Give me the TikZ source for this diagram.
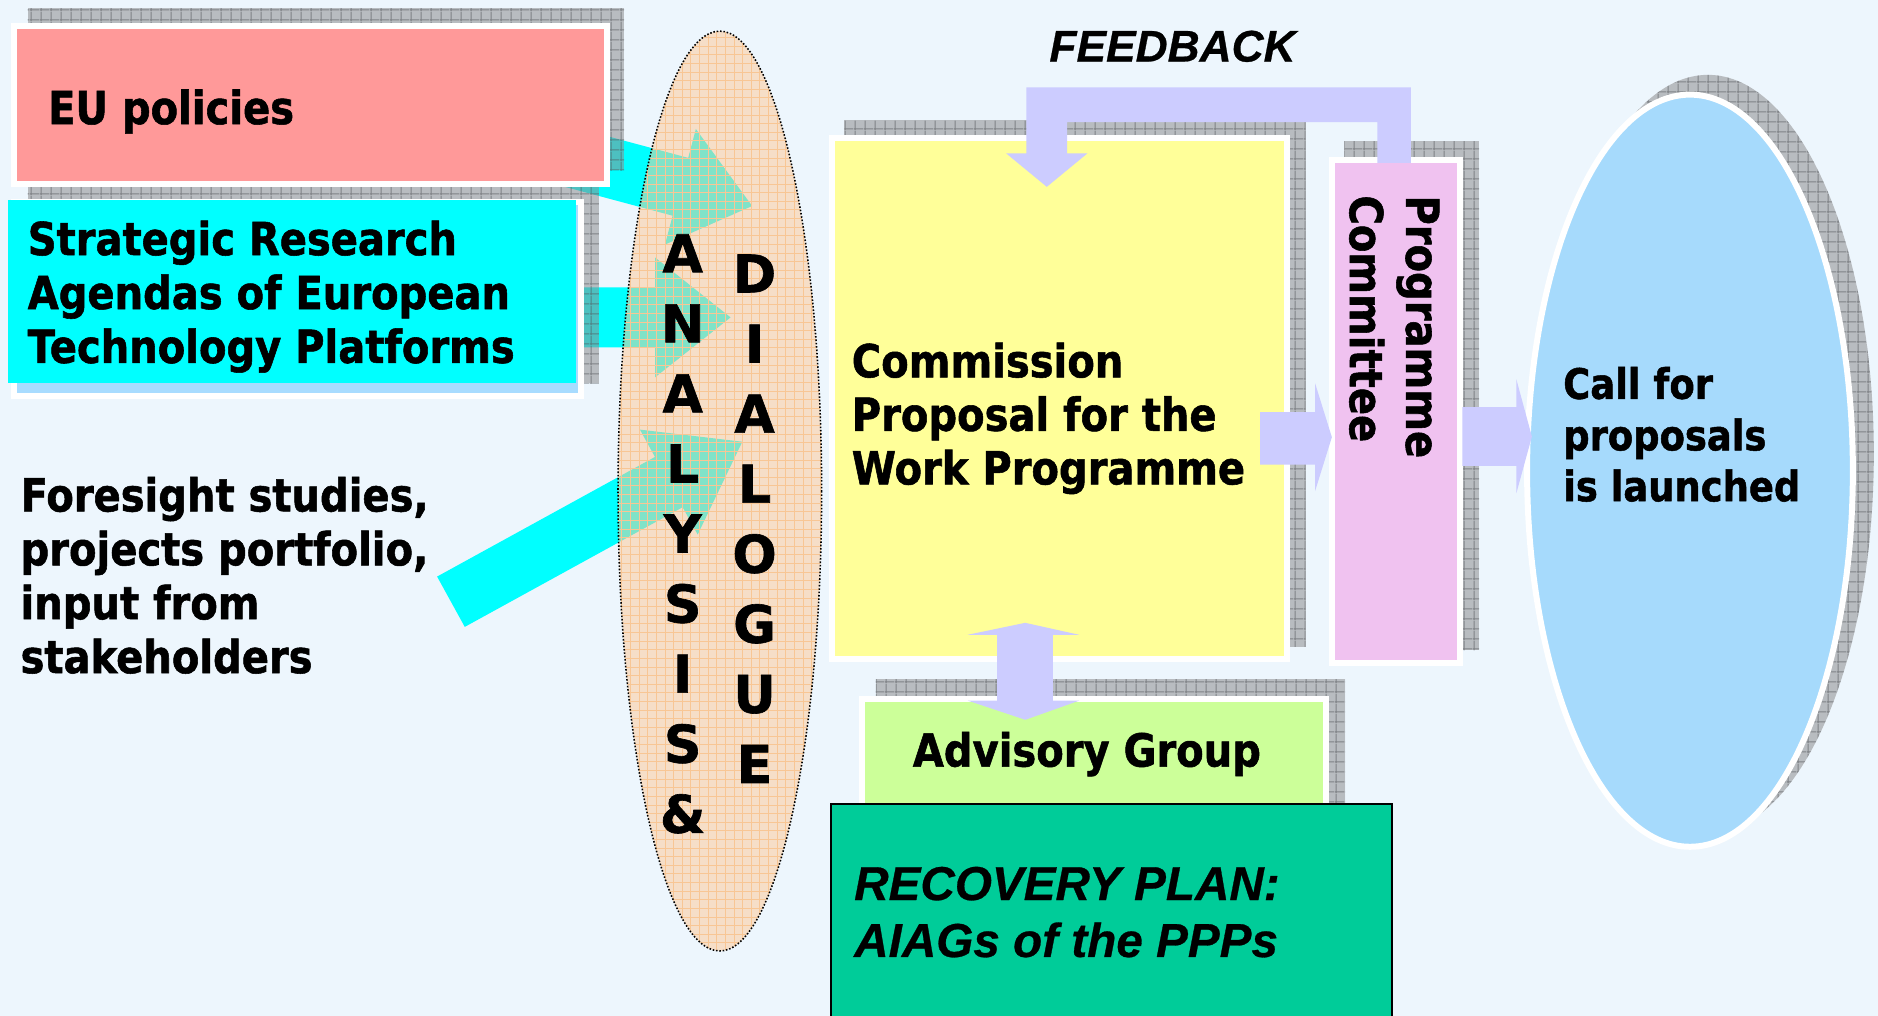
\documentclass[tikz,border=0pt]{standalone}
\usepackage{fontspec}
\usetikzlibrary{shapes.geometric,patterns}
\newfontfamily\tahfont{DejaVu Sans}[FakeStretch=0.88, BoldFeatures={FakeBold=1.2}]
\newfontfamily\verfont{DejaVu Sans}[BoldFeatures={FakeBold=1.2}]
\newfontfamily\arfont{Liberation Sans}[BoldItalicFeatures={FakeBold=0.6}]
\definecolor{bgc}{RGB}{237,246,253}
\definecolor{pinkc}{RGB}{255,153,153}
\definecolor{cyanc}{RGB}{0,255,255}
\definecolor{lbc}{RGB}{168,220,255}
\definecolor{yelc}{RGB}{255,255,153}
\definecolor{pcc}{RGB}{240,194,240}
\definecolor{limec}{RGB}{204,255,153}
\definecolor{callc}{RGB}{166,218,252}
\definecolor{greenc}{RGB}{0,204,153}
\definecolor{lavc}{RGB}{204,204,255}
\definecolor{peachc}{RGB}{255,200,146}
\definecolor{gridc}{RGB}{248,198,148}
\definecolor{shc}{RGB}{142,141,142}
\definecolor{shl}{RGB}{80,82,86}
\pgfdeclarepatternformonly{shgrid}{\pgfpointorigin}{\pgfqpoint{8.5pt}{8.5pt}}{\pgfqpoint{8.5pt}{8.5pt}}{%
  \pgfsetlinewidth{0.9pt}%
  \pgfpathmoveto{\pgfqpoint{0pt}{1pt}}\pgfpathlineto{\pgfqpoint{8.5pt}{1pt}}%
  \pgfpathmoveto{\pgfqpoint{1pt}{0pt}}\pgfpathlineto{\pgfqpoint{1pt}{8.5pt}}%
  \pgfusepath{stroke}}
\begin{document}
\begin{tikzpicture}[x=1pt,y=-1pt,
  boxst/.style={rectangle, draw=white, line width=5, inner sep=0},
  shad/.style={fill=shc, fill opacity=0.55, postaction={pattern=shgrid, pattern color=shl}},
  txt/.style={inner sep=0, anchor=base west, font=\tahfont\bfseries\fontsize{38}{44}\selectfont},
  ctxt/.style={inner sep=0, anchor=base west, font=\tahfont\bfseries\fontsize{35}{42}\selectfont},
  itxt/.style={inner sep=0, anchor=base west, font=\arfont\bfseries\itshape\fontsize{39.8}{44}\selectfont},
  letter/.style={inner sep=0, anchor=base, font=\verfont\bfseries\fontsize{43.5}{50}\selectfont},
  lav/.style={fill=lavc},
  cyarrow/.style={fill=cyanc}]
\useasboundingbox (0,0) rectangle (1568,848);
\begin{scope}
\clip (0,0) rectangle (1568,848);
\fill[bgc] (0,0) rectangle (1568,848);

% cyan input arrows (below shadows, boxes and ellipse)
\path[cyarrow] (407.1,138.7) -- (561.6,180.1) -- (555.2,204.2) -- (628,172) -- (581.0,107.7) -- (574.6,131.8) -- (420.1,90.4) -- cycle;
\path[cyarrow] (400,240) -- (547,240) -- (547,215) -- (610,265) -- (547,315) -- (547,290) -- (400,290) -- cycle;
\path[cyarrow] (364.95,481.4) -- (546.85,381.5) -- (534.3,358.7) -- (619.8,368.8) -- (582.5,446.3) -- (569.95,423.5) -- (388.05,523.4) -- cycle;

% shadows
\path[shad] (23,7) rectangle (521,142);
\path[shad] (23,154) rectangle (500,320);
\path[shad] (705,100) rectangle (1090,540);
\path[shad] (1122.5,118) rectangle (1235,543);
\path[shad] (731,567) rectangle (1123,687);
\path[shad] (1426,379) ellipse [x radius=138.5, y radius=316.5];

% boxes
\node[boxst, fill=pinkc, minimum width=494.5, minimum height=131.5] (eu) at (259.25,87.75) {};
\node[boxst, fill=lbc, minimum width=473, minimum height=162] (srback) at (248.5,250) {};
\node[rectangle, fill=cyanc, inner sep=0, minimum width=474, minimum height=153] (sr) at (244,243.5) {};
\node[boxst, fill=yelc, minimum width=380, minimum height=435] (cp) at (884.5,333) {};
\node[boxst, fill=pcc, minimum width=107, minimum height=419.5] (pc) at (1165.5,343.75) {};
\node[boxst, fill=limec, minimum width=387.5, minimum height=116.5] (ag) at (913.25,641.75) {};
\node[ellipse, draw=white, line width=5, fill=callc, minimum width=272, minimum height=628, inner sep=0] (call) at (1411,393) {};

% analysis & dialogue ellipse
\node[ellipse, minimum width=170, minimum height=768, inner sep=0, fill=peachc, fill opacity=0.5] (ad) at (601,410) {};
\begin{scope}
\clip (601,410) ellipse [x radius=85, y radius=384];
\foreach \i in {0,...,26} \draw[gridc, line width=0.6] (512+7.2*\i,20) -- (512+7.2*\i,800);
\foreach \j in {0,...,110} \draw[gridc, line width=0.6] (510,24+7.2*\j) -- (700,24+7.2*\j);
\end{scope}
\draw[black, line width=1.3, dash pattern=on 1.3pt off 1.5pt] (ad.center) ellipse [x radius=85, y radius=384];

% recovery plan box
\node[rectangle, draw=black, line width=1.5, fill=greenc, minimum width=468, minimum height=199, inner sep=0] (rp) at (928,770.5) {};

% lavender arrows
\path[lav] (1150,136) -- (1150,102) -- (891,102) -- (891,128) -- (908,128) -- (874,156) -- (840,128) -- (857,128) -- (857,73) -- (1178,73) -- (1178,136) -- cycle;
\path[lav] (1052,344) -- (1098,344) -- (1098,320) -- (1112,365) -- (1098,410) -- (1098,388) -- (1052,388) -- cycle;
\path[lav] (1221,340) -- (1266,340) -- (1266,316.5) -- (1279,364.5) -- (1266,412) -- (1266,389) -- (1221,389) -- cycle;
\path[lav] (856,520) -- (901,530) -- (879,530) -- (879,585) -- (901,585) -- (856,601) -- (808,585) -- (832.5,585) -- (832.5,530) -- (808,530) -- cycle;

% texts
\node[txt] (teu) at (40,103.6) {EU policies};
\node[txt] (tsr1) at (23,213) {Strategic Research};
\node[txt] (tsr2) at (23,258) {Agendas of European};
\node[txt] (tsr3) at (23,303) {Technology Platforms};
\node[txt] (tf1) at (17,427) {Foresight studies,};
\node[txt] (tf2) at (17,472) {projects portfolio,};
\node[txt] (tf3) at (17,517) {input from};
\node[txt] (tf4) at (17,562) {stakeholders};
\node[txt] (tc1) at (711,315) {Commission};
\node[txt] (tc2) at (711,359.7) {Proposal for the};
\node[txt] (tc3) at (711,404.4) {Work Programme};
\node[txt] (tag) at (762,640) {Advisory Group};
\node[txt, rotate=-90] (tpc1) at (1174,163) {Programme};
\node[txt, rotate=-90] (tpc2) at (1127,163) {Committee};
\node[ctxt] (tcall1) at (1305,333) {Call for};
\node[ctxt] (tcall2) at (1305,376) {proposals};
\node[ctxt] (tcall3) at (1305,418.5) {is launched};
\node[itxt, font=\arfont\bfseries\itshape\fontsize{37}{44}\selectfont] (tfb) at (876,51.4) {FEEDBACK};
\node[itxt] (trp1) at (713,751.5) {RECOVERY PLAN:};
\node[itxt] (trp2) at (713,799) {AIAGs of the PPPs};
\foreach \l [count=\k from 0] in {A,N,A,L,Y,S,I,S,\&}
  \node[letter] (an\k) at (570,227.3+58.5*\k) {\l};
\foreach \l [count=\k from 0] in {D,I,A,L,O,G,U,E}
  \node[letter] (dl\k) at (630,244.2+58.5*\k) {\l};
\end{scope}
\end{tikzpicture}
\end{document}
